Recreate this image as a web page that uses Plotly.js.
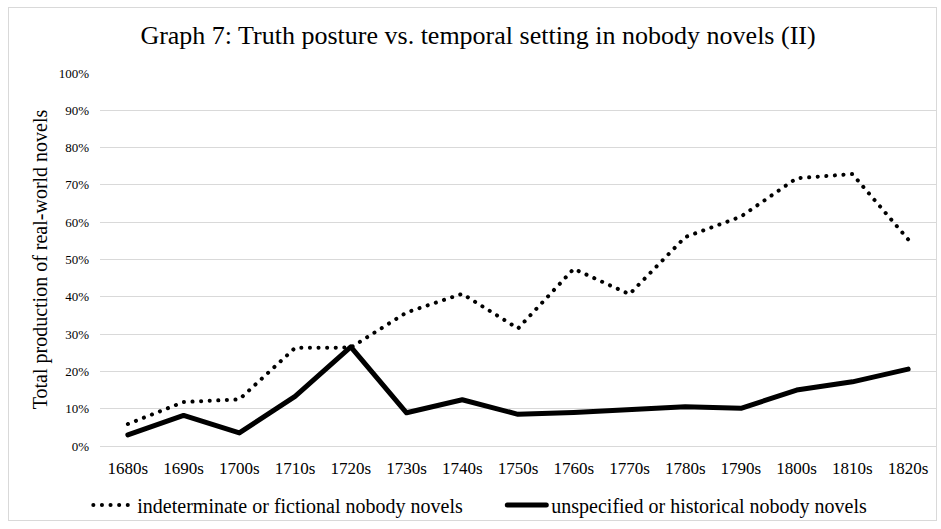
<!DOCTYPE html>
<html>
<head>
<meta charset="utf-8">
<script src="https://cdn.plot.ly/plotly-3.0.1.min.js"></script>
<style>
  html, body { margin: 0; padding: 0; background: #fff; }
  #chart { width: 941px; height: 529px; position: absolute; left: 0; top: 0; }
  #frame { position: absolute; left: 8px; top: 7px; width: 929px; height: 514px; border: 1px solid #d9d9d9; box-sizing: border-box; pointer-events: none; }
  .scatterlayer .js-line, .legend .js-line { stroke-linecap: round !important; stroke-linejoin: round !important; }
</style>
</head>
<body>
<div id="chart"></div>
<div id="frame"></div>
<script>
const decades = ["1680s","1690s","1700s","1710s","1720s","1730s","1740s","1750s","1760s","1770s","1780s","1790s","1800s","1810s","1820s"];
const indeterminateFictional = [5.9, 11.8, 12.5, 26.3, 26.4, 35.8, 40.8, 31.5, 47.5, 40.7, 56.0, 61.5, 71.8, 72.9, 55.4];
const unspecifiedHistorical = [3.0, 8.2, 3.5, 13.3, 26.6, 8.9, 12.4, 8.5, 9.0, 9.8, 10.5, 10.1, 15.0, 17.2, 20.6];
const seriesNames = ["indeterminate or fictional nobody novels", "unspecified or historical nobody novels"];
const yTicks = [0,10,20,30,40,50,60,70,80,90,100];

const serif = "Liberation Serif, Times New Roman, serif";

const traces = [
  {
    x: decades, y: indeterminateFictional, name: seriesNames[0],
    type: "scatter", mode: "lines",
    line: { color: "#000000", width: 4, dash: "0.1px,8.5px" }
  },
  {
    x: decades, y: unspecifiedHistorical, name: seriesNames[1],
    type: "scatter", mode: "lines",
    line: { color: "#000000", width: 5 }
  }
];

const layout = {
  width: 941, height: 529,
  margin: { l: 100, r: 5, t: 73, b: 83 },
  paper_bgcolor: "rgba(0,0,0,0)", plot_bgcolor: "#ffffff",
  font: { family: serif, color: "#000000" },
  title: {
    text: "Graph 7: Truth posture vs. temporal setting in nobody novels (II)",
    font: { family: serif, size: 26, color: "#000000" },
    xref: "container", x: 478/941, xanchor: "center",
    yref: "container", y: 1 - 35/529, yanchor: "middle"
  },
  xaxis: {
    type: "category", range: [-0.5, 14.5], automargin: false, tickangle: 0,
    showgrid: false, zeroline: false, showline: false, ticks: "",
    tickfont: { family: serif, size: 17, color: "#000000" },
    ticklabelstandoff: 10
  },
  yaxis: {
    range: [0, 100], tickvals: yTicks, ticktext: yTicks.map(v => v + "%"), automargin: false,
    showgrid: true, gridcolor: "#d9d9d9", gridwidth: 1,
    zeroline: true, zerolinecolor: "#d9d9d9", zerolinewidth: 1,
    showline: false, ticks: "",
    tickfont: { family: serif, size: 13, color: "#000000" },
    ticklabelstandoff: 10,
    title: { text: "Total production of real-world novels", font: { family: serif, size: 20, color: "#000000" }, standoff: 5 }
  },
  showlegend: true,
  legend: {
    orientation: "h", xref: "paper", x: -0.014, xanchor: "left",
    yref: "paper", y: -0.158, yanchor: "middle",
    font: { family: serif, size: 20, color: "#000000" },
    bgcolor: "rgba(0,0,0,0)", itemwidth: 39, tracegroupgap: 0,
    entrywidth: 360, entrywidthmode: "pixels"
  }
};

Plotly.newPlot("chart", traces, layout, { staticPlot: true, displayModeBar: false });
</script>
</body>
</html>
